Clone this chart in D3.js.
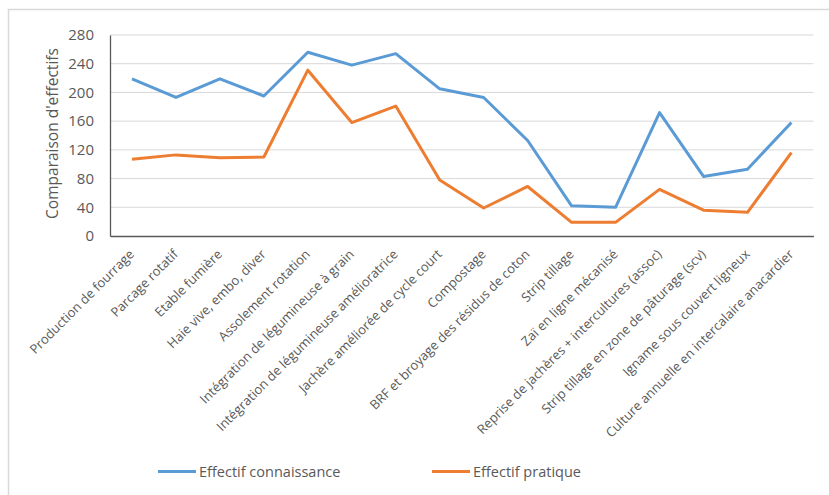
<!DOCTYPE html>
<html><head><meta charset="utf-8">
<script src="https://cdn.jsdelivr.net/npm/d3@7"></script>
<style>
body{margin:0;background:#fff;}
svg{display:block;font-family:"Open Sans",sans-serif;}
</style></head>
<body>
<svg id="c" width="829" height="495"></svg>
<script>
const categories = [
  "Production de fourrage","Parcage rotatif","Etable fumière","Haie vive, embo, diver",
  "Assolement rotation","Intégration de légumineuse à grain","Intégration de légumineuse amélioratrice",
  "Jachère améliorée de cycle court","Compostage","BRF et broyage des résidus de coton",
  "Strip tillage","Zaï en ligne mécanisé","Reprise de jachères + intercultures (assoc)",
  "Strip tillage en zone de pâturage (scv)","Igname sous couvert ligneux",
  "Culture annuelle en intercalaire anacardier"
];
const connaissance = [219,193,219,195,256,238,254,205,193,133,42,40,172,83,93,158];
const pratique = [107,113,109,110,231,158,181,78,39,69,19,19,65,36,33,116];
const yTicks = [0,40,80,120,160,200,240,280];
const seriesNames = ["Effectif connaissance","Effectif pratique"];
const colors = ["#5B9BD5","#ED7D31"];

const svg = d3.select("#c");
// outer frame
svg.append("rect").attr("x",8.5).attr("y",9.5).attr("width",900).attr("height",600)
  .attr("fill","none").attr("stroke","#d9d9d9").attr("stroke-width",1.5);

const pL=110, pR=813.4, pT=35, pB=236;
const x = d3.scaleBand().domain(categories).range([pL,pR]);
const y = d3.scaleLinear().domain([0,280]).range([pB,pT]);

// gridlines
svg.append("g").selectAll("line").data(yTicks.filter(d=>d>0)).join("line")
  .attr("x1",pL).attr("x2",pR).attr("y1",d=>y(d)).attr("y2",d=>y(d))
  .attr("stroke","#d9d9d9").attr("stroke-width",1);

// y axis
const ya = svg.append("g").attr("transform",`translate(${pL},0)`)
  .call(d3.axisLeft(y).tickValues(yTicks).tickSize(0).tickPadding(16));
ya.select(".domain").attr("stroke","#595959").attr("stroke-width",1.3);
ya.selectAll("text").attr("fill","#595959").style("font-size","15px").style("font-family","Open Sans");

// x axis
const xa = svg.append("g").attr("transform",`translate(0,${pB})`)
  .call(d3.axisBottom(x).tickSize(0).tickPadding(0));
xa.select(".domain").attr("stroke","#595959").attr("stroke-width",1.3);
xa.selectAll("text").attr("fill","#595959").style("font-size","13px").style("font-family","Open Sans")
  .attr("text-anchor","end").attr("dy",null).attr("y",0)
  .attr("transform","translate(3,19) rotate(-45)");

// y title
svg.append("text").attr("transform",`translate(58,${(pT+pB)/2-2}) rotate(-90)`)
  .attr("text-anchor","middle").attr("fill","#595959").style("font-size","15.5px")
  .text("Comparaison d'effectifs");

// lines
const series=[connaissance,pratique];
const line = d3.line().x((d,i)=>x(categories[i])+x.bandwidth()/2).y(d=>y(d));
series.forEach((s,k)=>{
  svg.append("path").datum(s).attr("d",line).attr("fill","none")
    .attr("stroke",colors[k]).attr("stroke-width",3).attr("stroke-linejoin","round");
});

// legend
const legX=[158,432];
seriesNames.forEach((n,k)=>{
  const g=svg.append("g").attr("transform",`translate(${legX[k]},471.5)`);
  g.append("line").attr("x1",0).attr("x2",38).attr("stroke",colors[k]).attr("stroke-width",3);
  g.append("text").attr("x",41).attr("y",5).attr("fill","#595959").style("font-size","14.5px").text(n);
});
</script>
</body></html>
